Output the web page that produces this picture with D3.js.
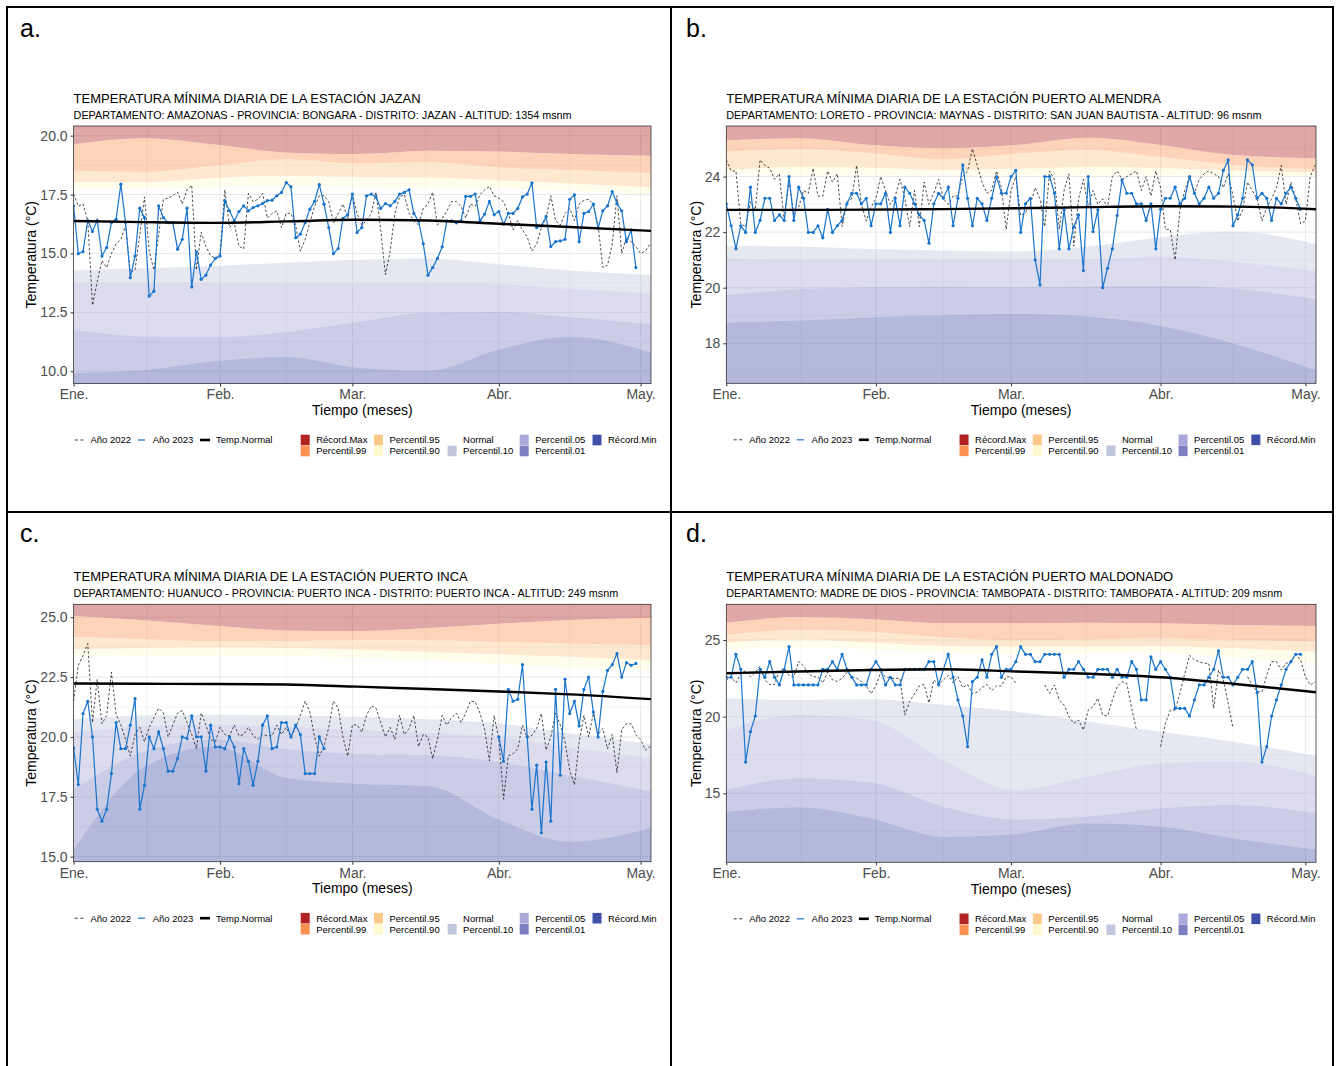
<!DOCTYPE html>
<html>
<head>
<meta charset="utf-8">
<script src="https://cdn.jsdelivr.net/npm/d3@7"></script>
<style>
  body { margin: 0; background: #fff; }
  svg { font-family: "Liberation Sans", Arial, sans-serif; }
</style>
</head>
<body>
<svg width="1338" height="1066"></svg>
<script>
// ---- shared axis / legend data ----
const monthTicks = [0, 31, 59, 90, 120];
const monthLabels = ["Ene.", "Feb.", "Mar.", "Abr.", "May."];
const minorDays = [15.5, 45, 74.5, 105];
const bandDays = [0, 15, 30, 45, 60, 75, 90, 105, 123];
const bandNames = ["Récord.Max", "Percentil.99", "Percentil.95", "Percentil.90", "Normal",
                   "Percentil.10", "Percentil.05", "Percentil.01", "Récord.Min"];
const bandColors = ["#b22222", "#fa9150", "#fdc98a", "#fffacd", "#ffffff",
                    "#c0c6dc", "#a9a8d8", "#7e7fc0", "#3f4fa8"];
const panelLetters = ["a.", "b.", "c.", "d."];

// ---- titles ----
const titles = [
  "TEMPERATURA MÍNIMA DIARIA DE LA ESTACIÓN JAZAN",
  "TEMPERATURA MÍNIMA DIARIA DE LA ESTACIÓN PUERTO ALMENDRA",
  "TEMPERATURA MÍNIMA DIARIA DE LA ESTACIÓN PUERTO INCA",
  "TEMPERATURA MÍNIMA DIARIA DE LA ESTACIÓN PUERTO MALDONADO"
];
const subtitles = [
  "DEPARTAMENTO: AMAZONAS - PROVINCIA: BONGARA - DISTRITO: JAZAN - ALTITUD: 1354 msnm",
  "DEPARTAMENTO: LORETO - PROVINCIA: MAYNAS - DISTRITO: SAN JUAN BAUTISTA - ALTITUD: 96 msnm",
  "DEPARTAMENTO: HUANUCO - PROVINCIA: PUERTO INCA - DISTRITO: PUERTO INCA - ALTITUD: 249 msnm",
  "DEPARTAMENTO: MADRE DE DIOS - PROVINCIA: TAMBOPATA - DISTRITO: TAMBOPATA - ALTITUD: 209 msnm"
];

// ---- y ticks ----
const jazanTicks = [10, 12.5, 15, 17.5, 20];
const almendraTicks = [18, 20, 22, 24];
const incaTicks = [15, 17.5, 20, 22.5, 25];
const maldonadoTicks = [15, 20, 25];

// ---- JAZAN ----
const jazan2022 = [
  17.52,17.0,17.1,16.4,12.8,13.8,14.7,14.4,15.0,15.4,
  15.6,16.2,14.2,14.3,15.8,17.4,15.1,14.3,15.8,17.3,
  17.35,17.45,17.6,17.1,17.7,17.9,14.3,15.9,15.3,14.9,
  14.8,15.0,17.7,16.1,16.3,15.3,15.2,17.55,17.2,17.3,
  17.55,16.5,16.7,16.8,16.1,16.7,16.7,16.2,15.1,15.6,
  16.3,17.0,17.45,17.45,17.2,16.3,16.7,17.1,16.5,17.5,
  16.7,16.2,16.4,16.7,17.6,16.0,14.1,15.1,16.7,17.4,
  17.5,16.7,16.4,16.2,16.9,17.1,17.6,16.2,16.5,16.8,
  17.2,17.2,17.0,16.5,17.1,17.0,17.5,17.7,17.85,17.45,
  17.35,17.2,16.7,16.0,16.4,16.0,15.7,15.1,15.4,16.1,
  16.5,17.45,16.4,16.2,16.7,16.9,16.4,17.1,17.25,17.3,
  17.1,16.2,14.4,14.5,15.4,17.45,15.0,15.7,15.5,15.3,
  15.0,15.1,15.4
];
const jazan2023 = [
  17.02,14.99,15.08,16.41,15.93,16.41,14.89,15.25,16.31,16.45,
  17.94,16.31,13.97,14.89,16.92,16.52,13.19,13.40,17.02,16.52,
  16.31,16.31,15.18,15.60,16.92,13.58,15.07,13.90,14.08,14.51,
  14.79,14.89,17.24,16.81,16.38,16.78,17.02,16.81,16.95,17.02,
  17.12,17.24,17.26,17.45,17.59,18.01,17.83,15.67,15.82,16.31,
  16.88,17.21,17.92,17.09,16.10,14.99,15.21,16.49,16.64,17.52,
  15.89,16.10,17.45,17.52,17.40,16.91,17.12,17.02,17.21,17.52,
  17.59,17.70,16.70,16.38,15.42,14.08,14.40,14.79,15.28,16.38,
  16.38,16.30,16.38,17.42,17.42,17.52,16.38,16.67,17.21,16.64,
  16.78,16.24,16.70,16.70,16.91,17.40,17.52,18.00,16.10,16.17,
  16.57,15.29,15.50,15.53,15.60,17.30,17.49,15.50,16.70,16.78,
  17.09,16.07,16.81,17.02,17.63,17.12,16.81,15.50,15.99,14.40
];
const jazanNormal = [16.38,16.33,16.30,16.36,16.43,16.40,16.26,16.12,15.95];
const jazanLimits = [
  [19.64,19.89,19.62,19.29,19.22,19.36,19.33,19.22,19.15],
  [18.51,18.46,18.72,19.00,18.82,18.87,18.65,18.54,18.40],
  [18.02,18.02,18.20,18.30,18.24,18.22,18.10,17.97,17.80],
  [17.74,17.74,17.82,17.86,17.83,17.80,17.76,17.66,17.50],
  [14.28,14.37,14.47,14.61,14.73,14.79,14.54,14.28,14.08],
  [13.76,13.76,13.76,13.76,13.76,13.76,13.70,13.50,13.30],
  [11.76,11.48,11.45,11.67,12.09,12.49,12.52,12.30,11.99],
  [9.93,10.05,10.43,10.60,10.15,10.02,10.92,11.46,10.75]
];

// ---- PUERTO ALMENDRA ----
const almendra2022 = [
  24.6,24.2,24.2,22.3,22.2,23.1,22.8,24.6,24.4,24.3,
  23.9,24.1,22.4,23.9,22.6,22.9,23.5,23.4,24.3,23.3,
  23.3,24.2,23.8,24.1,22.2,23.1,23.2,24.4,23.0,22.4,
  22.9,23.2,24.0,23.5,23.0,23.3,23.9,23.2,22.2,23.5,
  22.2,23.8,23.0,23.4,23.9,23.2,23.0,23.3,23.3,24.0,
  24.2,25.0,24.4,23.8,23.4,23.5,24.2,23.6,22.1,23.5,
  24.0,22.6,22.7,23.0,23.6,23.2,22.2,24.2,23.9,22.1,
  23.5,24.1,21.5,23.2,23.9,22.9,23.5,23.0,23.2,22.9,
  24.0,24.2,23.9,24.0,24.1,24.2,23.5,24.0,23.3,24.2,
  23.6,22.1,22.1,21.0,22.8,23.5,24.0,23.4,23.9,24.1,
  24.2,24.1,24.0,23.6,24.1,23.3,22.4,22.8,23.8,23.5,
  23.2,22.4,22.9,23.2,23.6,24.4,23.0,23.8,23.2,22.3,
  22.4,24.0,24.4
];
const almendra2023 = [
  23.02,22.23,21.40,22.23,21.99,23.62,21.99,22.42,23.22,23.22,
  22.42,22.62,22.42,24.00,22.42,23.62,23.22,21.99,21.99,22.23,
  21.80,22.82,21.99,22.23,22.42,23.02,23.40,23.40,23.02,23.22,
  22.23,23.02,23.02,23.40,21.99,23.22,22.23,23.62,23.40,23.02,
  22.62,22.42,21.60,23.02,23.40,23.22,23.62,22.23,23.22,24.42,
  23.22,22.23,23.22,23.02,22.42,23.22,24.00,23.40,23.40,24.00,
  24.22,21.99,23.02,23.22,21.00,20.10,24.00,24.00,23.40,21.40,
  22.80,21.40,22.20,22.62,20.62,24.00,22.02,22.80,20.00,20.70,
  21.40,22.60,23.88,23.40,23.40,23.02,23.02,22.42,23.02,21.40,
  22.82,23.22,23.22,23.62,23.02,23.22,24.00,23.40,23.02,23.22,
  23.62,23.22,23.40,24.22,24.60,22.23,22.62,23.22,24.60,24.42,
  23.22,23.40,23.22,22.42,23.22,23.02,23.40,23.62,23.22,22.82
];
const almendraNormal = [22.80,22.80,22.81,22.83,22.86,22.90,22.93,22.92,22.82];
const almendraLimits = [
  [25.30,25.38,25.14,25.02,25.14,25.40,25.14,24.78,24.66],
  [24.90,24.98,24.84,24.62,24.82,24.96,24.70,24.42,24.26],
  [24.24,24.34,24.32,24.24,24.28,24.34,24.30,24.22,24.14],
  [24.10,24.06,24.06,24.06,24.06,24.06,24.06,24.04,24.00],
  [21.50,21.48,21.39,21.34,21.30,21.48,21.82,22.02,21.54],
  [21.06,21.00,21.00,21.00,21.00,21.02,21.12,20.94,20.58],
  [19.74,19.95,20.02,20.04,20.02,20.04,20.07,19.98,19.56],
  [18.75,18.82,18.94,19.01,19.06,18.96,18.63,18.00,16.98]
];

// ---- PUERTO INCA ----
const inca2022 = [
  21.5,23.0,23.4,23.9,20.6,22.4,20.55,20.9,22.7,20.95,
  20.5,19.9,19.2,20.1,20.4,19.8,20.4,20.8,21.2,21.0,
  20.0,20.5,21.0,21.1,20.6,20.1,19.5,21.0,20.5,19.9,
  19.8,20.4,20.1,20.05,20.5,20.05,20.1,20.4,20.05,19.9,
  20.1,20.05,20.05,20.5,20.1,20.4,20.0,20.4,20.9,21.5,
  21.05,20.0,19.2,19.6,20.4,21.5,21.2,20.0,19.2,20.5,
  20.5,20.2,20.9,21.3,21.2,20.6,20.0,20.4,19.9,20.9,
  20.1,20.35,20.9,19.6,20.1,20.0,19.1,19.9,20.9,20.5,
  20.8,21.0,20.6,21.0,21.5,21.46,21.0,20.3,19.0,20.9,
  19.9,17.4,19.2,19.3,19.5,20.5,19.96,20.07,20.35,20.98,
  19.45,20.0,21.0,20.5,19.8,18.6,18.0,19.8,20.9,20.0,
  21.0,20.1,20.35,19.5,20.1,18.5,20.3,20.55,20.55,20.1,
  19.9,19.45,19.6
];
const inca2023 = [
  19.54,18.01,20.98,21.49,20.00,16.98,16.48,16.98,18.47,20.60,
  19.51,19.51,20.49,21.60,16.98,17.98,20.00,19.51,20.21,19.51,
  18.57,18.57,19.10,20.00,19.93,20.88,20.00,20.00,18.57,20.49,
  19.58,19.58,19.51,20.00,19.58,18.05,19.51,18.98,17.98,18.98,
  20.49,20.88,19.51,19.58,20.60,20.60,20.00,20.49,20.10,18.47,
  18.47,18.47,20.00,19.51,null,null,null,null,null,null,
  null,null,null,null,null,null,null,null,null,null,
  null,null,null,null,null,null,null,null,null,null,
  null,null,null,null,null,null,null,null,null,null,
  20.00,18.98,21.99,21.49,21.57,23.02,20.00,16.98,18.82,16.00,
  18.95,16.48,21.99,18.40,22.41,20.98,21.49,20.46,21.99,22.50,
  21.04,20.00,21.90,22.78,23.02,23.48,22.50,23.10,22.99,23.07
];
const incaNormal = [22.23,22.22,22.21,22.19,22.10,22.00,21.90,21.78,21.57];
const incaLimits = [
  [25.05,24.87,24.64,24.45,24.42,24.55,24.73,24.88,24.97],
  [24.18,24.08,24.00,24.00,24.05,24.04,23.97,23.90,23.83],
  [23.66,23.72,23.75,23.72,23.65,23.55,23.45,23.35,23.20],
  [23.35,23.38,23.40,23.38,23.30,23.20,23.05,22.90,22.80],
  [20.74,20.90,20.93,20.90,20.84,20.74,20.56,20.14,19.68],
  [20.20,20.45,20.50,20.45,20.30,20.18,20.00,19.55,19.10],
  [17.80,19.40,19.90,19.50,19.30,19.25,18.96,18.40,17.70],
  [15.28,18.76,19.60,18.30,18.05,17.95,16.55,15.63,16.25]
];

// ---- PUERTO MALDONADO ----
const maldonado2022 = [
  22.4,22.6,22.2,22.8,23.0,22.6,22.9,23.3,22.4,22.1,
  22.1,23.0,23.1,22.7,22.6,23.6,23.3,22.8,22.6,22.6,
  22.2,22.9,22.4,22.3,22.5,22.9,22.6,22.5,22.3,22.0,
  21.5,22.0,22.9,22.6,22.5,22.5,22.5,20.1,21.0,21.5,
  22.0,22.1,20.9,22.4,22.1,22.4,22.7,22.2,22.6,21.9,
  22.1,21.5,21.6,21.9,22.1,21.7,22.0,22.0,22.6,22.6,
  22.2,null,null,null,null,null,22.07,21.52,22.07,21.09,
  20.76,20.0,19.57,19.78,19.13,20.43,20.65,21.2,20.11,20.04,
  21.09,21.96,22.28,22.17,20.54,19.13,null,null,null,null,
  18.04,19.57,20.43,20.43,21.52,22.8,24.0,23.7,23.59,23.48,
  23.48,20.54,23.04,22.39,20.87,19.24,null,null,22.61,22.07,
  21.63,21.63,22.72,23.59,23.59,23.04,23.48,23.59,24.07,23.7,
  22.61,22.07,22.28
];
const maldonado2023 = [
  22.57,22.57,24.07,23.09,17.04,19.02,20.04,23.09,22.57,23.59,
  22.57,22.07,23.09,24.57,22.07,22.07,22.07,22.07,22.07,22.07,
  23.09,23.09,23.59,23.09,24.07,23.09,22.57,22.07,22.07,22.07,
  23.09,23.59,23.09,22.07,22.57,22.07,22.07,23.09,23.09,23.09,
  23.09,23.09,23.59,23.59,22.07,23.09,24.07,22.57,21.09,20.04,
  18.04,22.28,22.57,23.70,22.57,24.07,24.57,22.57,23.09,23.09,
  23.59,24.57,24.07,24.07,23.59,23.59,24.07,24.07,24.07,24.07,
  22.57,23.09,23.09,23.59,23.09,22.57,22.57,23.09,23.09,23.09,
  22.57,23.09,22.57,22.57,23.59,23.09,21.09,21.09,23.91,23.09,
  23.59,23.09,22.57,20.54,20.54,20.54,20.04,21.09,22.07,22.07,
  22.57,23.09,24.30,22.57,22.57,22.07,22.57,23.09,23.09,23.59,
  21.57,17.04,18.04,20.04,21.09,22.07,23.09,23.59,24.07,24.07
];
const maldonadoNormal = [22.83,22.95,23.04,23.09,22.95,22.80,22.57,22.15,21.57];
const maldonadoLimits = [
  [26.13,26.48,26.35,26.09,26.09,26.13,26.09,25.98,25.91],
  [25.33,25.65,25.54,25.17,25.00,25.04,25.10,25.00,24.90],
  [24.83,25.04,24.83,24.60,24.57,24.57,24.60,24.46,24.24],
  [24.35,24.52,24.39,24.17,24.09,24.13,24.17,23.87,23.48],
  [21.20,21.09,21.13,20.76,20.33,19.67,19.02,18.37,17.39],
  [19.13,20.11,19.78,17.17,15.22,16.09,16.96,17.07,16.09],
  [15.22,15.98,15.70,14.13,13.30,13.48,14.02,14.24,13.70],
  [13.80,14.09,13.37,12.17,12.35,13.04,12.83,12.07,11.30]
];

const blue = "#1874cd";
const svg = d3.select("svg");

// table frame
const frame = svg.append("g").attr("stroke", "#000").attr("stroke-width", 2);
frame.append("line").attr("x1", 7).attr("x2", 1333).attr("y1", 7).attr("y2", 7);
frame.append("line").attr("x1", 7).attr("x2", 1333).attr("y1", 512).attr("y2", 512);
frame.append("line").attr("x1", 7).attr("x2", 7).attr("y1", 6).attr("y2", 1066);
frame.append("line").attr("x1", 671).attr("x2", 671).attr("y1", 6).attr("y2", 1066);
frame.append("line").attr("x1", 1333).attr("x2", 1333).attr("y1", 6).attr("y2", 1066);

const panels = [
  {id: "a", left: 73.6, right: 651, top: 126, bottom: 383.5, yDomain: [9.48, 20.41],
   ticks: jazanTicks, minor: [11.25, 13.75, 16.25, 18.75], fmt: d3.format(".1f"),
   s22: jazan2022, s23: jazan2023, normal: jazanNormal, limits: jazanLimits,
   labelX: 20, labelY: 37, ytitleX: 36},
  {id: "b", left: 726.3, right: 1316, top: 126, bottom: 383.3, yDomain: [16.56, 25.82],
   ticks: almendraTicks, minor: [17, 19, 21, 23, 25], fmt: d3.format("d"),
   s22: almendra2022, s23: almendra2023, normal: almendraNormal, limits: almendraLimits,
   labelX: 686, labelY: 37, ytitleX: 701},
  {id: "c", left: 73.6, right: 651, top: 604.3, bottom: 861.7, yDomain: [14.79, 25.54],
   ticks: incaTicks, minor: [16.25, 18.75, 21.25, 23.75], fmt: d3.format(".1f"),
   s22: inca2022, s23: inca2023, normal: incaNormal, limits: incaLimits,
   labelX: 20, labelY: 542, ytitleX: 36},
  {id: "d", left: 726.3, right: 1316, top: 604.3, bottom: 862.3, yDomain: [10.5, 27.33],
   ticks: maldonadoTicks, minor: [12.5, 17.5, 22.5], fmt: d3.format("d"),
   s22: maldonado2022, s23: maldonado2023, normal: maldonadoNormal, limits: maldonadoLimits,
   labelX: 686, labelY: 542, ytitleX: 701}
];

panels.forEach((p, k) => {
  const x = d3.scaleLinear().domain([0, 122.2]).range([p.left, p.right]);
  const y = d3.scaleLinear().domain(p.yDomain).range([p.bottom, p.top]);
  const g = svg.append("g");

  svg.append("text").attr("x", p.labelX).attr("y", p.labelY)
    .attr("font-size", 25).attr("fill", "#000").text(panelLetters[k]);

  g.append("clipPath").attr("id", "clip-" + p.id)
    .append("rect").attr("x", p.left).attr("y", p.top)
    .attr("width", p.right - p.left).attr("height", p.bottom - p.top);
  const plot = g.append("g").attr("clip-path", `url(#clip-${p.id})`);

  // grid
  const grid = plot.append("g").attr("stroke", "#e8e8e8");
  p.minor.forEach(v => grid.append("line").attr("x1", p.left).attr("x2", p.right)
    .attr("y1", y(v)).attr("y2", y(v)).attr("stroke-width", 0.5));
  minorDays.forEach(v => grid.append("line").attr("y1", p.top).attr("y2", p.bottom)
    .attr("x1", x(v)).attr("x2", x(v)).attr("stroke-width", 0.5));
  p.ticks.forEach(v => grid.append("line").attr("x1", p.left).attr("x2", p.right)
    .attr("y1", y(v)).attr("y2", y(v)).attr("stroke-width", 1));
  monthTicks.forEach(v => grid.append("line").attr("y1", p.top).attr("y2", p.bottom)
    .attr("x1", x(v)).attr("x2", x(v)).attr("stroke-width", 1));

  // percentile bands
  const area = d3.area().curve(d3.curveMonotoneX)
    .x(d => x(d.day)).y0(d => y(d.lo)).y1(d => y(d.hi));
  bandNames.forEach((name, i) => {
    if (i === 4) return;
    const rows = bandDays.map((day, j) => ({
      day,
      hi: i === 0 ? p.yDomain[1] + 1 : p.limits[i - 1][j],
      lo: i === 8 ? p.yDomain[0] - 1 : p.limits[i][j]
    }));
    plot.append("path").datum(rows).attr("d", area)
      .attr("fill", bandColors[i]).attr("fill-opacity", 0.4);
  });

  // 2022 dashed
  const line = d3.line().defined(d => d != null).x((d, i) => x(i)).y(d => y(d));
  plot.append("path").datum(p.s22).attr("d", line)
    .attr("fill", "none").attr("stroke", "#000").attr("stroke-width", 0.7)
    .attr("stroke-dasharray", "2.5,2");

  // 2023 line + points
  plot.append("path").datum(p.s23).attr("d", line)
    .attr("fill", "none").attr("stroke", blue).attr("stroke-width", 1.2);
  plot.selectAll(".pt").data(p.s23.map((v, i) => ({v, i})).filter(d => d.v != null))
    .enter().append("circle")
    .attr("cx", d => x(d.i)).attr("cy", d => y(d.v)).attr("r", 1.6).attr("fill", blue);

  // normal
  plot.append("path").datum(p.normal)
    .attr("d", d3.line().curve(d3.curveMonotoneX).x((d, i) => x(bandDays[i])).y(d => y(d)))
    .attr("fill", "none").attr("stroke", "#000").attr("stroke-width", 2.4);

  // panel border
  g.append("rect").attr("x", p.left).attr("y", p.top)
    .attr("width", p.right - p.left).attr("height", p.bottom - p.top)
    .attr("fill", "none").attr("stroke", "#333").attr("stroke-width", 0.8);

  // axes
  const yAxis = g.append("g").attr("transform", `translate(${p.left},0)`)
    .call(d3.axisLeft(y).tickValues(p.ticks).tickFormat(p.fmt).tickSize(3));
  const xAxis = g.append("g").attr("transform", `translate(0,${p.bottom})`)
    .call(d3.axisBottom(x).tickValues(monthTicks).tickFormat((d, i) => monthLabels[i]).tickSize(3));
  [yAxis, xAxis].forEach(a => {
    a.select(".domain").remove();
    a.attr("font-family", null).attr("font-size", 14);
    a.selectAll("line").attr("stroke", "#333");
    a.selectAll("text").attr("fill", "#4d4d4d");
  });

  // titles
  g.append("text").attr("x", p.left).attr("y", p.top - 23.4)
    .attr("font-size", 13).attr("fill", "#000").text(titles[k]);
  g.append("text").attr("x", p.left).attr("y", p.top - 7.4)
    .attr("font-size", 10.8).attr("fill", "#000").text(subtitles[k]);

  g.append("text").attr("x", (p.left + p.right) / 2).attr("y", p.bottom + 31.5)
    .attr("text-anchor", "middle").attr("font-size", 14).text("Tiempo (meses)");
  g.append("text")
    .attr("transform", `translate(${p.ytitleX},${(p.top + p.bottom) / 2}) rotate(-90)`)
    .attr("text-anchor", "middle").attr("font-size", 14).text("Temperatura (°C)");

  // legend
  const L = (p.left + p.right) / 2 - 287.5;
  const r1 = p.bottom + 56.5, r2 = p.bottom + 67.5;
  const lg = g.append("g").attr("font-size", 9.5).attr("fill", "#000");
  lg.append("line").attr("x1", L).attr("x2", L + 8.6).attr("y1", r1).attr("y2", r1)
    .attr("stroke", "#000").attr("stroke-width", 0.8).attr("stroke-dasharray", "3,2.6");
  lg.append("text").attr("x", L + 15.6).attr("y", r1 + 3.4).text("Año 2022");
  lg.append("line").attr("x1", L + 63.2).attr("x2", L + 70.2).attr("y1", r1).attr("y2", r1)
    .attr("stroke", blue).attr("stroke-width", 1.2);
  lg.append("text").attr("x", L + 77.9).attr("y", r1 + 3.4).text("Año 2023");
  lg.append("line").attr("x1", L + 125.2).attr("x2", L + 135.2).attr("y1", r1).attr("y2", r1)
    .attr("stroke", "#000").attr("stroke-width", 2.6);
  lg.append("text").attr("x", L + 141.2).attr("y", r1 + 3.4).text("Temp.Normal");

  const cols = [225.9, 299.2, 372.8, 444.9, 517.7];
  bandNames.forEach((name, i) => {
    const cx = L + cols[Math.floor(i / 2)];
    const cy = i % 2 === 0 ? r1 : r2;
    if (i !== 4) {
      lg.append("rect").attr("x", cx).attr("y", cy - 5.3).attr("width", 9).attr("height", 10.6)
        .attr("fill", bandColors[i]);
    }
    lg.append("text").attr("x", cx + 15.5).attr("y", cy + 3.4).text(name);
  });
});
</script>
</body>
</html>
